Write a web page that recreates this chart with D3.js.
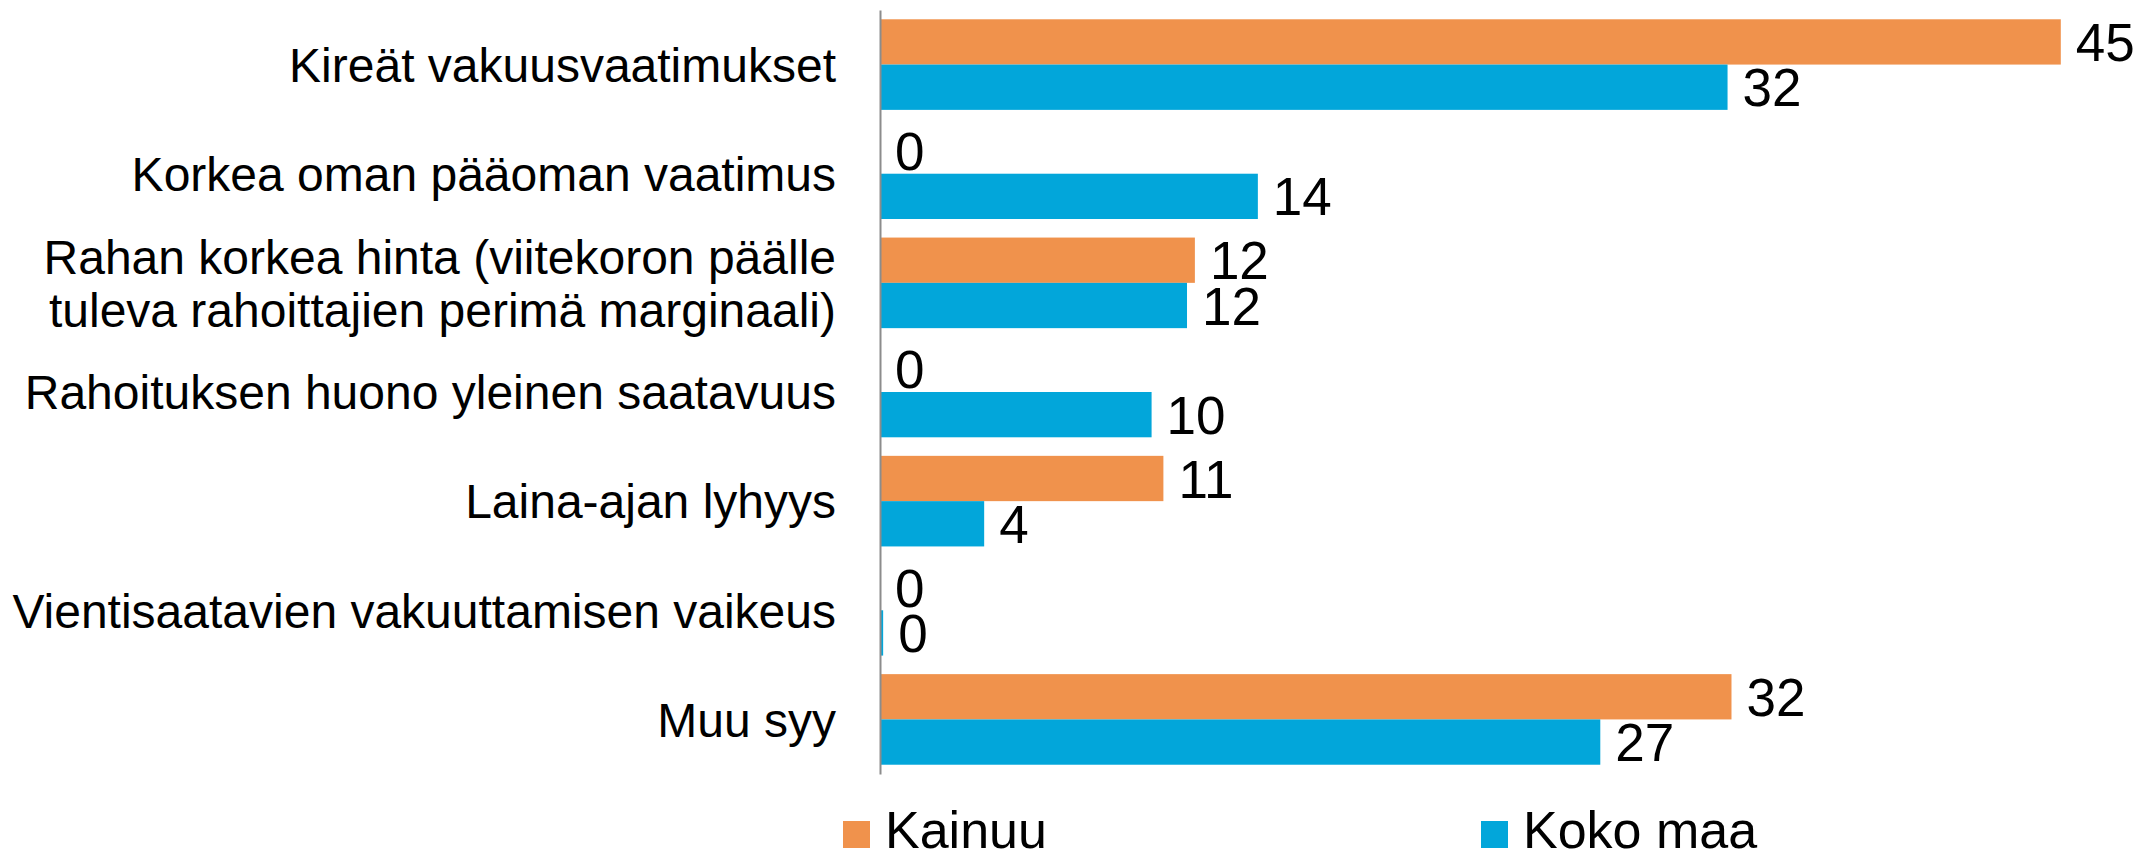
<!DOCTYPE html>
<html>
  <head>
    <meta charset="utf-8">
    <title>Rahoituksen esteet</title>
    <script src="https://cdnjs.cloudflare.com/ajax/libs/d3/7.8.5/d3.min.js"></script>
    <style type="text/css">
        * {
            padding: 0px;
            margin: 0px;
        }
        body {
            background: white;
            font-family: "Liberation Sans", Arial, sans-serif;
        }
        #viz text {
            fill: black;
        }
    </style>
  </head>
  <body>
    <svg id="viz"></svg>
  </body>
</html>

<script>
    // chart data
    var categories = [
        "Kireät vakuusvaatimukset",
        "Korkea oman pääoman vaatimus",
        "Rahan korkea hinta (viitekoron päälle\ntuleva rahoittajien perimä marginaali)",
        "Rahoituksen huono yleinen saatavuus",
        "Laina-ajan lyhyys",
        "Vientisaatavien vakuuttamisen vaikeus",
        "Muu syy"
    ];
    var seriesNames = ["Kainuu", "Koko maa"];
    var kainuu  = [45.0, 0, 12.0, 0, 10.8, 0, 32.45];
    var kokoMaa = [32.3, 14.4, 11.7, 10.35, 3.97, 0.12, 27.45];
    var colors = ["#F0924C", "#02A6DA"];

    var w = 2141, h = 852;

    var viz = d3.select("#viz")
        .attr("width", w)
        .attr("height", h);

    viz.append("rect")
        .attr("width", w)
        .attr("height", h)
        .style("fill", "white");

    var x = d3.scaleLinear()
        .domain([0, 50])
        .range([880, 880 + 50 * 26.24]);

    var y0 = d3.scaleBand()
        .domain(categories)
        .range([10, 774])
        .paddingInner(0.17)
        .paddingOuter(0.085);

    var y1 = d3.scaleBand()
        .domain(seriesNames)
        .range([0, y0.bandwidth()]);

    var rows = categories.map(function (c, i) {
        return { cat: c, values: [kainuu[i], kokoMaa[i]] };
    });

    // bars
    var groups = viz.selectAll("g.group")
        .data(rows)
        .enter().append("g")
        .attr("class", "group")
        .attr("transform", (d) => "translate(0," + y0(d.cat) + ")");

    groups.selectAll("rect")
        .data((d) => d.values.map((v, j) => ({ name: seriesNames[j], v: v, j: j })))
        .enter().append("rect")
        .attr("x", x(0))
        .attr("y", (d) => y1(d.name))
        .attr("width", (d) => x(d.v) - x(0))
        .attr("height", y1.bandwidth())
        .style("fill", (d) => colors[d.j]);

    // value labels
    groups.selectAll("text.val")
        .data((d) => d.values.map((v, j) => ({ name: seriesNames[j], v: v })))
        .enter().append("text")
        .attr("class", "val")
        .attr("x", (d) => x(d.v) + 15)
        .attr("y", (d) => y1(d.name) + y1.bandwidth() / 2)
        .attr("dy", "0.36em")
        .style("font-size", "53px")
        .text((d) => Math.round(d.v));

    // category axis
    var yAxis = viz.append("g")
        .attr("transform", "translate(" + x(0) + ",0)")
        .call(d3.axisLeft(y0).tickSize(0).tickPadding(44));

    yAxis.select(".domain")
        .style("stroke", "#8c8c8c")
        .style("stroke-width", 2);

    yAxis.selectAll(".tick text")
        .style("font-family", "'Liberation Sans', Arial, sans-serif")
        .style("font-size", "48px")
        .style("fill", "black")
        .each(function (d) {
            var lines = d.split("\n");
            var t = d3.select(this).text(null).attr("dy", null);
            var lh = 53;
            lines.forEach(function (line, k) {
                t.append("tspan")
                    .attr("x", -44)
                    .attr("y", (k - (lines.length - 1) / 2) * lh)
                    .attr("dy", "0.36em")
                    .text(line);
            });
        });

    // legend
    var legendX = [843, 1481];
    var legend = viz.selectAll("g.legend")
        .data(seriesNames)
        .enter().append("g")
        .attr("class", "legend")
        .attr("transform", (d, i) => "translate(" + legendX[i] + ",821)");

    legend.append("rect")
        .attr("width", 27)
        .attr("height", 27)
        .style("fill", (d, i) => colors[i]);

    legend.append("text")
        .attr("x", 42)
        .attr("y", 27)
        .style("font-size", "52px")
        .text((d) => d);
</script>
